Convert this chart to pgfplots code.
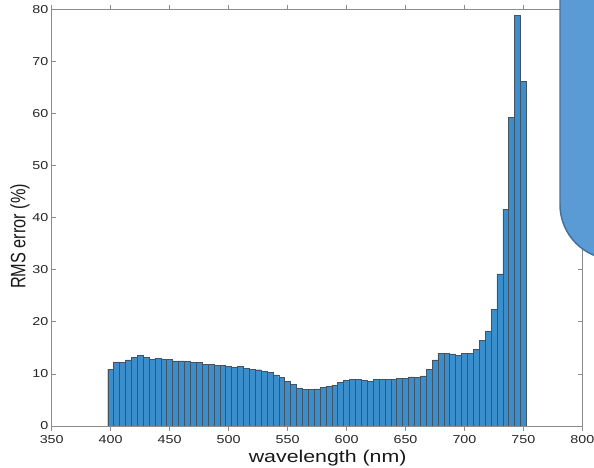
\documentclass[border=0pt]{standalone}
\usepackage{fontspec}
\setmainfont{Liberation Sans}[FakeStretch=1.25]
\newfontfamily\plainsans{Liberation Sans}
\usepackage{pgfplots}
\pgfplotsset{compat=1.18}

\definecolor{barfill}{RGB}{58,142,203}
\definecolor{baredge}{RGB}{70,82,96}
\definecolor{calloutfill}{RGB}{91,155,213}
\definecolor{calloutedge}{RGB}{65,113,156}

\pgfplotstableread{
nm   err
400  10.9
405  12.3
410  12.2
415  12.7
420  13.2
425  13.6
430  13.2
435  12.8
440  13.0
445  12.8
450  12.8
455  12.5
460  12.5
465  12.4
470  12.2
475  12.2
480  11.9
485  11.8
490  11.7
495  11.6
500  11.4
505  11.2
510  11.4
515  11.1
520  10.9
525  10.8
530  10.5
535  10.3
540  9.8
545  9.3
550  8.6
555  8.0
560  7.3
565  7.0
570  7.0
575  7.15
580  7.4
585  7.6
590  7.85
595  8.4
600  8.75
605  8.9
610  9.0
615  8.75
620  8.6
625  8.9
630  8.9
635  9.0
640  9.0
645  9.1
650  9.1
655  9.45
660  9.3
665  9.6
670  10.9
675  12.7
680  14.0
685  13.9
690  13.85
695  13.6
700  13.9
705  14.0
710  14.7
715  16.5
720  18.2
725  22.4
730  29.2
735  41.6
740  59.3
745  78.9
750  66.2
}\rmserr

\begin{document}
\begin{tikzpicture}
  \begin{axis}[
      at={(0,0)}, anchor=south west,
      scale only axis,
      width=398pt, height=312.5pt,
      xmin=350, xmax=800, ymin=0, ymax=80,
      xtick={350,400,...,800},
      ytick={0,10,...,80},
      tick align=inside,
      major tick length=3.5pt,
      axis line style={black!45},
      tick style={black!45, line width=0.5pt},
      ybar, bar width=5,
      /pgf/number format/assume math mode=true,
      /pgf/number format/1000 sep={},
      tick label style={font=\fontsize{8.6}{10}\selectfont, text=black!85},
      yticklabel style={xshift=1pt},
      xlabel={wavelength (nm)},
      ylabel={RMS error (\%)},
      xlabel style={font=\fontsize{12.8}{15}\selectfont, text=black!90,
        at={(axis description cs:0.52,-0.077)}, anchor=center},
      ylabel style={font=\plainsans\fontsize{12.2}{14}\selectfont, text=black!90,
        at={(axis description cs:-0.06,0.455)}, anchor=center, yscale=1.28},
    ]
    \addplot[fill=barfill, draw=baredge, line width=0.35pt] table[x=nm, y=err] {\rmserr};
  \end{axis}
  \pgfresetboundingbox
  \path[use as bounding box] (-38.8pt,-31.5pt) rectangle (406.7pt,319.5pt);
  % callout shape overlapping the top right corner
  \draw[fill=calloutfill, draw=calloutedge, line width=1.1pt, rounded corners=41pt]
    (381.2pt,340pt) -- (381.2pt,125pt) -- (470pt,125pt) -- (470pt,340pt);
\end{tikzpicture}
\end{document}
